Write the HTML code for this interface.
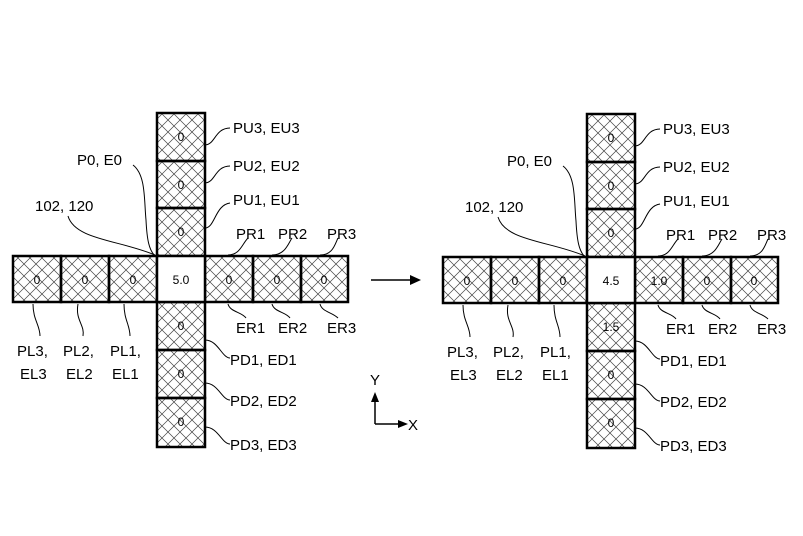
<!DOCTYPE html>
<html><head><meta charset="utf-8"><style>
html,body{margin:0;padding:0;background:#fff;}
svg text{font-family:"Liberation Sans",sans-serif;fill:#000;}
</style></head><body>
<svg width="803" height="531" viewBox="0 0 803 531" xmlns="http://www.w3.org/2000/svg">
<defs>
<pattern id="h" width="12" height="12" patternUnits="userSpaceOnUse">
<path d="M0,0 L12,12 M12,0 L0,12" stroke="#444" stroke-width="0.7" fill="none"/>
</pattern>
<g id="cross">
<g stroke="#000" stroke-width="2.5" fill="url(#h)">
<rect x="157" y="113" width="48" height="48"/>
<rect x="157" y="161" width="48" height="47"/>
<rect x="157" y="208" width="48" height="48"/>
<rect x="13" y="256" width="48" height="46"/>
<rect x="61" y="256" width="48" height="46"/>
<rect x="109" y="256" width="48" height="46"/>
<rect x="205" y="256" width="48" height="46"/>
<rect x="253" y="256" width="48" height="46"/>
<rect x="301" y="256" width="47" height="46"/>
<rect x="157" y="302" width="48" height="48"/>
<rect x="157" y="350" width="48" height="48"/>
<rect x="157" y="398" width="48" height="49"/>
<rect x="157" y="256" width="48" height="46" fill="#fff"/>
</g>
<g stroke="#000" stroke-width="1" fill="none">
<path d="M205,145 C215,145 215,128 230,128"/>
<path d="M205,183 C215,183 215,166 230,166"/>
<path d="M205,228 C215,228 215,205 230,203"/>
<path d="M228,255 C240,255 242,244 248,238"/>
<path d="M272,255 C285,255 288,244 292,238"/>
<path d="M320,255 C333,255 335,244 338,238"/>
<path d="M228,304 C230,312 242,312 246,318"/>
<path d="M272,304 C274,312 286,312 290,318"/>
<path d="M320,304 C322,312 332,312 338,318"/>
<path d="M205,340 C218,340 222,358 230,358"/>
<path d="M205,383 C218,383 222,400 230,400"/>
<path d="M205,427 C218,427 222,444 230,444"/>
<path d="M33,304 C33,320 40,325 40,336"/>
<path d="M78,304 C75,320 85,325 83,336"/>
<path d="M124,304 C124,320 130,325 130,336"/>
<path d="M133,165 C146,175 144,200 146,220 C147,240 149,250 155,256"/>
<path d="M68,216 C75,240 120,240 155,255"/>
</g>
</g>
</defs>
<use href="#cross"/>
<use href="#cross" transform="translate(430,1)"/>
<g font-size="12" text-anchor="middle">
<text x="181" y="141">0</text><text x="181" y="189">0</text><text x="181" y="236">0</text>
<text x="37" y="284">0</text><text x="85" y="284">0</text><text x="133" y="284">0</text>
<text x="181" y="284">5.0</text>
<text x="229" y="284">0</text><text x="277" y="284">0</text><text x="324" y="284">0</text>
<text x="181" y="330">0</text><text x="181" y="378">0</text><text x="181" y="426">0</text>
<text x="611" y="142">0</text><text x="611" y="190">0</text><text x="611" y="237">0</text>
<text x="467" y="285">0</text><text x="515" y="285">0</text><text x="563" y="285">0</text>
<text x="611" y="285">4.5</text>
<text x="659" y="285">1.0</text><text x="707" y="285">0</text><text x="754" y="285">0</text>
<text x="611" y="331">1.5</text><text x="611" y="379">0</text><text x="611" y="427">0</text>
</g>
<g font-size="15">
<text x="233" y="133">PU3, EU3</text><text x="233" y="171">PU2, EU2</text><text x="233" y="205">PU1, EU1</text>
<text x="236" y="239">PR1</text><text x="278" y="239">PR2</text><text x="327" y="239">PR3</text>
<text x="236" y="333">ER1</text><text x="278" y="333">ER2</text><text x="327" y="333">ER3</text>
<text x="230" y="365">PD1, ED1</text><text x="230" y="406">PD2, ED2</text><text x="230" y="450">PD3, ED3</text>
<text x="17" y="356">PL3,</text><text x="63" y="356">PL2,</text><text x="110" y="356">PL1,</text>
<text x="20" y="379">EL3</text><text x="66" y="379">EL2</text><text x="112" y="379">EL1</text>
<text x="77" y="165">P0, E0</text><text x="35" y="211">102, 120</text>
<text x="663" y="134">PU3, EU3</text><text x="663" y="172">PU2, EU2</text><text x="663" y="206">PU1, EU1</text>
<text x="666" y="240">PR1</text><text x="708" y="240">PR2</text><text x="757" y="240">PR3</text>
<text x="666" y="334">ER1</text><text x="708" y="334">ER2</text><text x="757" y="334">ER3</text>
<text x="660" y="366">PD1, ED1</text><text x="660" y="407">PD2, ED2</text><text x="660" y="451">PD3, ED3</text>
<text x="447" y="357">PL3,</text><text x="493" y="357">PL2,</text><text x="540" y="357">PL1,</text>
<text x="450" y="380">EL3</text><text x="496" y="380">EL2</text><text x="542" y="380">EL1</text>
<text x="507" y="166">P0, E0</text><text x="465" y="212">102, 120</text>
<text x="370" y="385">Y</text><text x="408" y="430">X</text>
</g>
<g stroke="#000" stroke-width="1.5" fill="none">
<path d="M371,280 H412"/>
<path d="M375,424 V398 M375,424 H400"/>
</g>
<g fill="#000">
<path d="M421,280 L410,275 L410,285 Z"/>
<path d="M375,392 L371,402 L379,402 Z"/>
<path d="M408,424 L398,420 L398,428 Z"/>
</g>
</svg>
</body></html>
